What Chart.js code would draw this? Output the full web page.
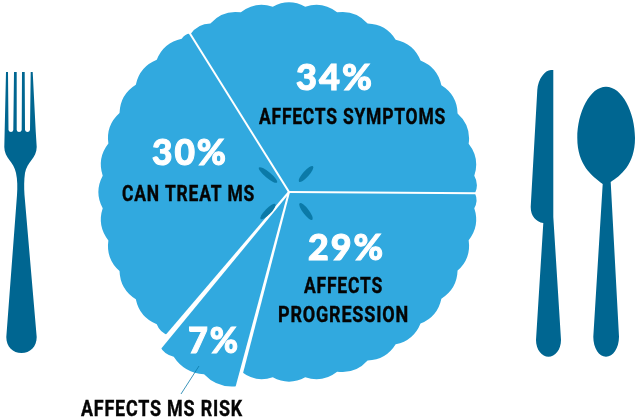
<!DOCTYPE html>
<html>
<head>
<meta charset="utf-8">
<style>
html, body { margin: 0; background: #fff; }
canvas { display: block; }
</style>
<script src="https://cdn.jsdelivr.net/npm/chart.js@4"></script>
</head>
<body>
<canvas id="plate" width="635" height="419"></canvas>
<script>
const categories = ['Affects symptoms', 'Affects progression', 'Affects MS risk', 'Can treat MS'];
const shares = [34, 29, 7, 30];
const shareLabels = ['34%', '29%', '7%', '30%'];

const BLUE = '#31a9df';
const DARK = '#006691';
const LEAF = '#0b7aa8';

const rimExtra = [1, 1, 16, 2];        // the 7% slice sticks out past the others
const cutWidths = [2, 4, 6, 2];        // white gap after each slice, at the rim

// left, right, baseline of each percent, same order as shareLabels
const percentPlaces = [[296, 374, 90], [308, 385, 260], [188, 240, 353], [152, 228, 165]];
const captions = [
  ['AFFECTS SYMPTOMS', 259, 446, 124],
  ['CAN TREAT MS', 122, 255, 201],
  ['AFFECTS', 304, 383, 293],
  ['PROGRESSION', 278, 409, 322],
  ['AFFECTS MS RISK', 81, 243, 416]
];

const forkPath = 'M6 72H8L8.500 130Q9 132 11 132Q13 132 13.300 130L14 72H16.700L16.700 130Q17 132 19 132Q21.500 132 21.700 130L22 72H24.700L25 130Q25.500 132 27.500 132Q29.500 132 30 130L30.700 72H32.700L35.700 131L36.700 147C36.700 158 27 162 25 173C24 180 24 187 24.500 195L36.700 337C36.700 347 30 353 21.500 353C13 353 6.300 347 6.300 337L17 195C17.500 187 17.500 180 16 173C14 162 4.300 158 4.300 147Z';
const knifePath = 'M553.300 70V217L561 340C561 350 555 356.700 548.500 356.700C542 356.700 536 350 536 340L543.300 223C536 222 530.700 216 530.700 207L537.300 90C538 79 545 70 551 70Z';
const spoonPath = 'M606 86.700C622 86.700 635 112 635 138C635 165 620 176 610.700 182L619 336.700C619 348 613 356.700 606 356.700C599 356.700 593.300 348 593.300 336.700L602.700 184C592 176 577.300 165 577.300 138C577.300 112 590 86.700 606 86.700Z';

// scalloped rim, repainted from the arc element's own angles
function rimPath(ctx, arc, extra) {
  const { x, y, startAngle, endAngle, outerRadius } = arc.getProps(['x', 'y', 'startAngle', 'endAngle', 'outerRadius'], true);
  const r0 = outerRadius + extra;
  const step = (Math.PI * 2) / 36;
  const phase = step / 2;              // a bump sits at the top of the plate
  const first = Math.floor((startAngle - phase) / step);
  const last = Math.ceil((endAngle - phase) / step);
  ctx.beginPath();
  ctx.moveTo(x, y);
  ctx.lineTo(x + r0 * Math.cos(startAngle), y + r0 * Math.sin(startAngle));
  for (let i = first; i < last; i++) {
    const a0 = Math.max(i * step + phase, startAngle);
    const a1 = Math.min((i + 1) * step + phase, endAngle);
    const mid = (a0 + a1) / 2;
    const r = r0 + 8 * ((a1 - a0) / step);
    ctx.quadraticCurveTo(x + r * Math.cos(mid), y + r * Math.sin(mid), x + r0 * Math.cos(a1), y + r0 * Math.sin(a1));
  }
  ctx.closePath();
}

function fitText(ctx, text, left, right, baseline, stroke) {
  const w = ctx.measureText(text).width;
  ctx.save();
  ctx.translate(left, baseline);
  ctx.scale((right - left) / w, 1);
  ctx.fillText(text, 0, 0);
  ctx.lineWidth = stroke;
  ctx.strokeText(text, 0, 0);
  ctx.restore();
}

const platePlugin = {
  id: 'plate',
  afterDatasetsDraw(chart) {
    const ctx = chart.ctx;
    const arcs = chart.getDatasetMeta(0).data;
    const { x, y } = arcs[0].getProps(['x', 'y'], true);
    ctx.save();

    ctx.fillStyle = DARK;
    ctx.fill(new Path2D(forkPath));
    ctx.fill(new Path2D(knifePath));
    ctx.fill(new Path2D(spoonPath));

    arcs.forEach((arc, i) => {
      ctx.fillStyle = BLUE;
      rimPath(ctx, arc, rimExtra[i]);
      ctx.fill();
    });

    // white cuts, thin at the hub and wider at the rim
    ctx.fillStyle = '#fff';
    arcs.forEach((arc, i) => {
      const a = arc.getProps(['endAngle'], true).endAngle;
      const nx = -Math.sin(a), ny = Math.cos(a), half = cutWidths[i] / 2;
      const ex = x + 225 * Math.cos(a), ey = y + 225 * Math.sin(a);
      ctx.beginPath();
      ctx.moveTo(x - nx, y - ny);
      ctx.lineTo(ex - nx * half, ey - ny * half);
      ctx.lineTo(ex + nx * half, ey + ny * half);
      ctx.lineTo(x + nx, y + ny);
      ctx.closePath();
      ctx.fill();
    });

    ctx.fillStyle = LEAF;
    [[-21, -17, 0.69, 11.7], [17, -18, -0.84, 10.5], [-21, 19.500, -0.8, 10.5], [17, 19.500, 0.92, 10.5]].forEach(([dx, dy, angle, len]) => {
      ctx.beginPath();
      ctx.ellipse(x + dx, y + dy, len, 3, angle, 0, Math.PI * 2);
      ctx.fill();
    });

    ctx.strokeStyle = LEAF;
    ctx.lineWidth = 0.8;
    ctx.beginPath();
    ctx.moveTo(199, 366);
    ctx.lineTo(181, 394);
    ctx.stroke();

    ctx.textAlign = 'left';
    ctx.textBaseline = 'alphabetic';
    ctx.fillStyle = '#fff';
    ctx.strokeStyle = '#fff';
    ctx.font = '900 36px Lato';
    ctx.letterSpacing = '2px';
    shareLabels.forEach((label, i) => {
      const [left, right, baseline] = percentPlaces[i];
      fitText(ctx, label, left, right, baseline, 1);
    });
    ctx.fillStyle = '#050505';
    ctx.strokeStyle = '#050505';
    ctx.font = '700 22px Roboto';
    ctx.letterSpacing = '1px';
    captions.forEach(([text, left, right, baseline]) => fitText(ctx, text, left, right, baseline, 0.4));
    ctx.restore();
  }
};

new Chart(document.getElementById('plate'), {
  type: 'pie',
  data: {
    labels: categories,
    datasets: [{ data: shares, backgroundColor: BLUE, borderWidth: 0 }]
  },
  options: {
    responsive: false,
    animation: false,
    rotation: -32,
    events: [],
    // puts the hub at 289,192 with a radius of 185
    layout: { padding: { left: 104, right: 161, top: 7, bottom: 42 } },
    plugins: { legend: { display: false }, tooltip: { enabled: false } }
  },
  plugins: [platePlugin]
});
</script>
</body>
</html>
